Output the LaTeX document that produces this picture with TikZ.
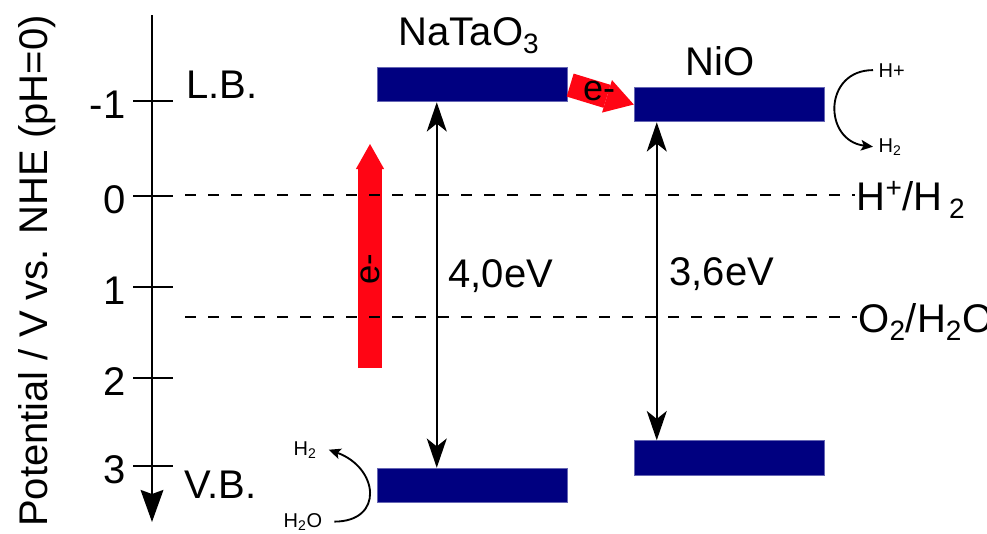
\documentclass[tikz,border=0pt]{standalone}
\usepackage{fontspec}
\setmainfont{Liberation Sans}
\usepackage{tikz}
\usetikzlibrary{arrows.meta, positioning, calc}
\definecolor{bandblue}{RGB}{0,0,128}
\definecolor{ered}{RGB}{255,5,20}

\begin{document}
\begin{tikzpicture}[
        x=0.75pt, y=-0.75pt,
        band/.style={rectangle, draw=bandblue!60, line width=0.6pt, fill=bandblue,
                     minimum width=143pt, minimum height=26pt, inner sep=0pt},
        biglabel/.style={font=\fontsize{30}{36}\selectfont, inner sep=1pt},
        smalllabel/.style={font=\fontsize{15}{18}\selectfont, inner sep=1pt},
        potaxis/.style={line width=1.8pt, -{Stealth[length=24pt, width=17pt, inset=3pt]}},
        tickline/.style={line width=1.5pt},
        refline/.style={line width=1.1pt, dash pattern=on 8.25pt off 9pt},
        gaparrow/.style={line width=1.5pt,
                         {Stealth[length=22pt, width=15pt, inset=6pt]}-{Stealth[length=22pt, width=15pt, inset=6pt]}},
        eflow/.style={draw=ered, line width=18pt},
        turn/.style={line width=1.4pt, -{Stealth[length=9pt, width=8pt, inset=2pt]}}
      ]
        \useasboundingbox (0,0) rectangle (987,533);
        % Axis
        \coordinate (axtop) at (152,15);
        \coordinate (axbot) at (152,522);
        \draw[potaxis] (axtop) -- (axbot);
        \node[biglabel, rotate=90, anchor=base] (ylabel) at (47,271)
          {Potential / V vs. NHE (pH=0)};
        \foreach \v/\ty in {-1/101, 0/196, 1/287, 2/378, 3/466} {
          \draw[tickline] (133,\ty) -- (173,\ty);
          \node[biglabel, anchor=base east] (tk\v) at (127,\ty+17) {\v};
        }
        \node[biglabel, anchor=base west] (lb) at (185,98) {L.B.};
        \node[biglabel, anchor=base west] (vb) at (183,498) {V.B.};
        % Bands -- manually placed
        \node[band] (ntlb)  at (472.5,84.5) {};
        \node[band] (ntvb)  at (472.5,485.5) {};
        \node[band] (niolb) at (729.5,104.5) {};
        \node[band] (niovb) at (729.5,458) {};
        \node[biglabel, anchor=base] (natao) at (469,45) {NaTaO\textsubscript{3}};
        \node[biglabel, anchor=base] (nio) at (720,75) {NiO};
        % Excitation
        \coordinate (eup0) at (370,368);
        \coordinate (eup1) at (370,144);
        \draw[eflow, -{Triangle[length=18.75pt, width=21.2pt, line width=0pt]}] (eup0) -- (eup1)
          node[pos=0.44, rotate=90, font=\fontsize{26}{30}\selectfont, text=black] (eexc) {e-};
        \draw[eflow, shorten <=1.5pt, -{Triangle[length=21pt, width=25.5pt, line width=0pt]}] (ntlb.east) -- (niolb.west)
          node[pos=0.47, yshift=2pt, font=\fontsize{27}{30}\selectfont, text=black] (etrans) {e-};
        % Redox levels
        \node[biglabel, anchor=base west] (hhlbl) at (855,210)
          {H\textsuperscript{+}/H\hspace{5pt}\textsubscript{2}};
        \node[biglabel, anchor=base west] (oolbl) at (857,332)
          {O\textsubscript{2}/H\textsubscript{2}O};
        \coordinate (hhstart) at (185,195);
        \coordinate (oostart) at (185,317);
        \draw[refline] (hhstart) -- (hhstart -| hhlbl.west);
        \draw[refline] (oostart) -- (oostart -| oolbl.west);
        % Band gaps
        \draw[gaparrow] ($(ntlb.south west)+(60,0)$) -- ($(ntvb.north west)+(60,0)$);
        \draw[gaparrow] ($(niolb.south west)+(23,0)$) -- ($(niovb.north west)+(23,0)$);
        \node[biglabel, anchor=base west] (gapnt) at (447,287) {4,0eV};
        \node[biglabel, anchor=base west] (gapnio) at (668,285) {3,6eV};
        % Reactions
        \node[smalllabel, anchor=base west] (hplus) at (877,77) {H+};
        \node[smalllabel, anchor=base west] (htwo) at (877,152) {H\textsubscript{2}};
        \node[smalllabel, anchor=base west] (htwob) at (292,455) {H\textsubscript{2}};
        \node[smalllabel, anchor=base west] (hwater) at (282,527) {H\textsubscript{2}O};
        \draw[turn] ([xshift=-3pt]hplus.west) .. controls +(-50,0) and +(-50,-6) .. ([xshift=-3pt]htwo.west);
        \draw[turn] ([xshift=8pt]hwater.east) .. controls +(50,0) and +(50,18) .. ([xshift=8pt]htwob.east);
      \end{tikzpicture}
\end{document}
